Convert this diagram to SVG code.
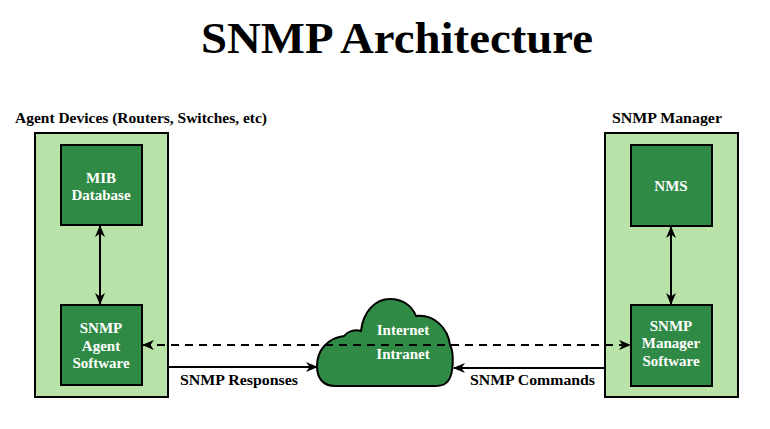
<svg xmlns="http://www.w3.org/2000/svg" width="770" height="429" viewBox="0 0 770 429">
<style>
.t{font-family:"Liberation Serif","DejaVu Serif",serif;font-weight:bold}
.title{font-size:44px;fill:#000}
.hdr{font-size:15.5px;fill:#000}
.w{font-size:15px;fill:#ffffff;text-anchor:middle}
.cont{fill:#b9e2a8;stroke:#000;stroke-width:2}
.box{fill:#2f8a45;stroke:#000;stroke-width:2}
.ln{stroke:#000;stroke-width:2;fill:none}
</style>
<defs>
<marker id="ah" markerUnits="userSpaceOnUse" markerWidth="12" markerHeight="10" refX="11" refY="5" orient="auto-start-reverse" viewBox="0 0 12 10">
<path d="M0,0 L12,5 L0,10 L3.5,5 Z" fill="#000"/>
</marker>
</defs>
<rect width="770" height="429" fill="#ffffff"/>
<text class="t title" x="397" y="53" text-anchor="middle" textLength="392" lengthAdjust="spacingAndGlyphs">SNMP Architecture</text>

<g id="agent-devices">
<rect class="cont" x="35" y="133" width="133" height="264"/>
<text class="t hdr" x="15" y="123" textLength="252" lengthAdjust="spacingAndGlyphs">Agent Devices (Routers, Switches, etc)</text>
</g>
<g id="snmp-manager">
<rect class="cont" x="605" y="133" width="133" height="264"/>
<text class="t hdr" x="612" y="123" textLength="110" lengthAdjust="spacingAndGlyphs">SNMP Manager</text>
</g>
<g id="mib-database">
<rect class="box" x="61" y="145" width="81" height="80"/>
<text class="t w" x="101" y="183">MIB</text>
<text class="t w" x="101" y="200">Database</text>
</g>
<g id="snmp-agent-software">
<rect class="box" x="61" y="305" width="81" height="80"/>
<text class="t w" x="101" y="333">SNMP</text>
<text class="t w" x="101" y="351">Agent</text>
<text class="t w" x="101" y="368">Software</text>
</g>
<g id="nms">
<rect class="box" x="631" y="145" width="81" height="81"/>
<text class="t w" x="671" y="191">NMS</text>
</g>
<g id="snmp-manager-software">
<rect class="box" x="631" y="305" width="81" height="81"/>
<text class="t w" x="671" y="331">SNMP</text>
<text class="t w" x="671" y="348">Manager</text>
<text class="t w" x="671" y="366">Software</text>
</g>
<g id="cloud">
<path class="box" d="M335,386 C323,386 317,378 317,366 C317,350 328,338 344,336 C348,331 355,329 361,331 C363,312 375,299 390,299 C403,299 412,306 416,316 C434,314 448,328 450,345 C454,352 454,374 448,381 C445,385 441,386 436,386 Z"/>
<text class="t w" x="403" y="335">Internet</text>
<text class="t w" x="403" y="359">Intranet</text>
</g>
<g id="connectors">
<line class="ln" x1="100" y1="226" x2="100" y2="304" marker-start="url(#ah)" marker-end="url(#ah)"/>
<line class="ln" x1="671" y1="227" x2="671" y2="304" marker-start="url(#ah)" marker-end="url(#ah)"/>
<line class="ln" x1="143" y1="345" x2="630" y2="345" stroke-dasharray="8,6" marker-start="url(#ah)" marker-end="url(#ah)"/>
<line class="ln" x1="168" y1="367" x2="317" y2="367" marker-end="url(#ah)"/>
<line class="ln" x1="605" y1="368" x2="454" y2="368" marker-end="url(#ah)"/>
<text class="t hdr" x="180" y="385" textLength="118" lengthAdjust="spacingAndGlyphs">SNMP Responses</text>
<text class="t hdr" x="470" y="385" textLength="125" lengthAdjust="spacingAndGlyphs">SNMP Commands</text>
</g>
</svg>
